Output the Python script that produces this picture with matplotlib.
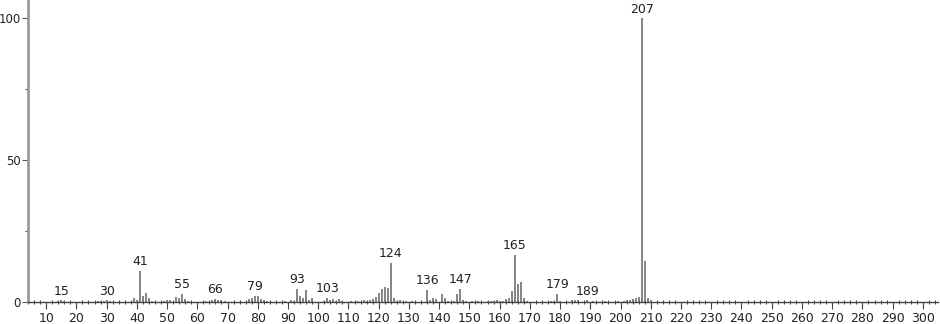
import matplotlib
matplotlib.use("Agg")
import matplotlib.pyplot as plt
from matplotlib.ticker import MultipleLocator

mz = [14, 15, 16, 27, 28, 29, 30, 31, 39, 40, 41, 42, 43, 44, 45,
      49, 50, 51, 53, 54, 55, 56, 57, 63, 65, 66, 67, 68, 69,
      77, 78, 79, 80, 81, 82, 83, 89, 91, 92, 93, 94, 95, 96, 97, 98,
      102, 103, 104, 105, 106, 107, 108, 111, 113, 115, 116, 117, 118, 119,
      120, 121, 122, 123, 124, 125, 126, 127, 129, 131,
      136, 137, 138, 139, 141, 142, 143, 145, 146, 147, 148, 149, 151, 153,
      156, 157, 158, 159, 160, 161, 162, 163, 164, 165, 166, 167, 168, 169,
      177, 178, 179, 180, 184, 185, 186, 189, 191, 195, 199,
      201, 202, 203, 204, 205, 206, 207, 208, 209, 210]
intensity = [0.3, 0.6, 0.2, 0.4, 0.4, 0.5, 0.6, 0.3, 1.5, 0.7, 11.0, 2.0, 3.0, 1.3, 0.3,
             0.5, 0.8, 0.6, 1.8, 1.5, 2.9, 1.0, 0.4, 0.3, 0.6, 1.2, 0.8, 0.8, 0.3,
             0.9, 1.3, 2.2, 2.1, 1.0, 0.6, 0.4, 0.3, 0.7, 0.4, 4.6, 2.0, 1.5, 4.3, 0.8, 1.5,
             0.5, 1.4, 0.7, 1.0, 0.4, 1.0, 0.5, 0.5, 0.4, 0.6, 0.5, 0.6, 1.0, 1.8,
             3.2, 4.6, 5.2, 5.0, 13.8, 1.3, 0.3, 0.6, 0.4, 0.3,
             4.2, 0.8, 1.3, 1.0, 2.9, 1.4, 0.3, 0.5, 2.8, 4.7, 0.8, 0.5, 0.4, 0.3,
             0.4, 0.5, 0.3, 0.6, 0.5, 0.4, 1.2, 1.4, 4.0, 16.7, 6.3, 7.2, 1.3, 0.3,
             0.3, 0.5, 2.9, 0.5, 0.8, 0.7, 0.6, 0.6, 0.3, 0.4, 0.3,
             0.5, 0.7, 0.8, 1.0, 1.5, 1.7, 100.0, 14.6, 1.4, 0.6]
labeled_peaks = [15, 30, 41, 55, 66, 79, 93, 103, 124, 136, 147, 165, 179, 189, 207]
x_major_ticks = list(range(10, 301, 10))
y_major_ticks = [0, 50, 100]

fig = plt.figure(figsize=(9.4, 3.24), dpi=100)
ax = fig.add_axes([28 / 940, 22 / 324, 910 / 940, 302 / 324])

ax.vlines(mz, 0, intensity, colors="#707070", linewidth=1.2)

lookup = dict(zip(mz, intensity))
for p in labeled_peaks:
    ax.annotate(str(p), (p, lookup[p]), xytext=(0, 2), textcoords="offset points",
                ha="center", va="bottom", fontsize=9, color="#222222")

ax.set_xlim(4, 305)
ax.set_ylim(0, 106.5)
ax.set_xticks(x_major_ticks)
ax.set_xticklabels([str(t) for t in x_major_ticks])
ax.xaxis.set_minor_locator(MultipleLocator(2))
ax.set_yticks(y_major_ticks)
ax.set_yticklabels([str(t) for t in y_major_ticks])
ax.yaxis.set_minor_locator(MultipleLocator(25))

for s in ["top", "right"]:
    ax.spines[s].set_visible(False)
ax.spines["left"].set_color("#9a9a9a")
ax.spines["left"].set_linewidth(2)
ax.spines["bottom"].set_color("#444444")
ax.spines["bottom"].set_linewidth(1)

ax.tick_params(axis="x", which="major", direction="out", length=5, width=0.8,
               color="#444444", labelsize=9, labelcolor="#222222", pad=2)
ax.tick_params(axis="x", which="minor", direction="inout", length=3, width=0.7,
               color="#444444")
ax.tick_params(axis="y", which="major", direction="out", length=4, width=0.8,
               color="#555555", labelsize=8.5, labelcolor="#222222", pad=1)
ax.tick_params(axis="y", which="minor", direction="out", length=2, width=0.8,
               color="#555555")

fig.savefig("out.png", dpi=100)
